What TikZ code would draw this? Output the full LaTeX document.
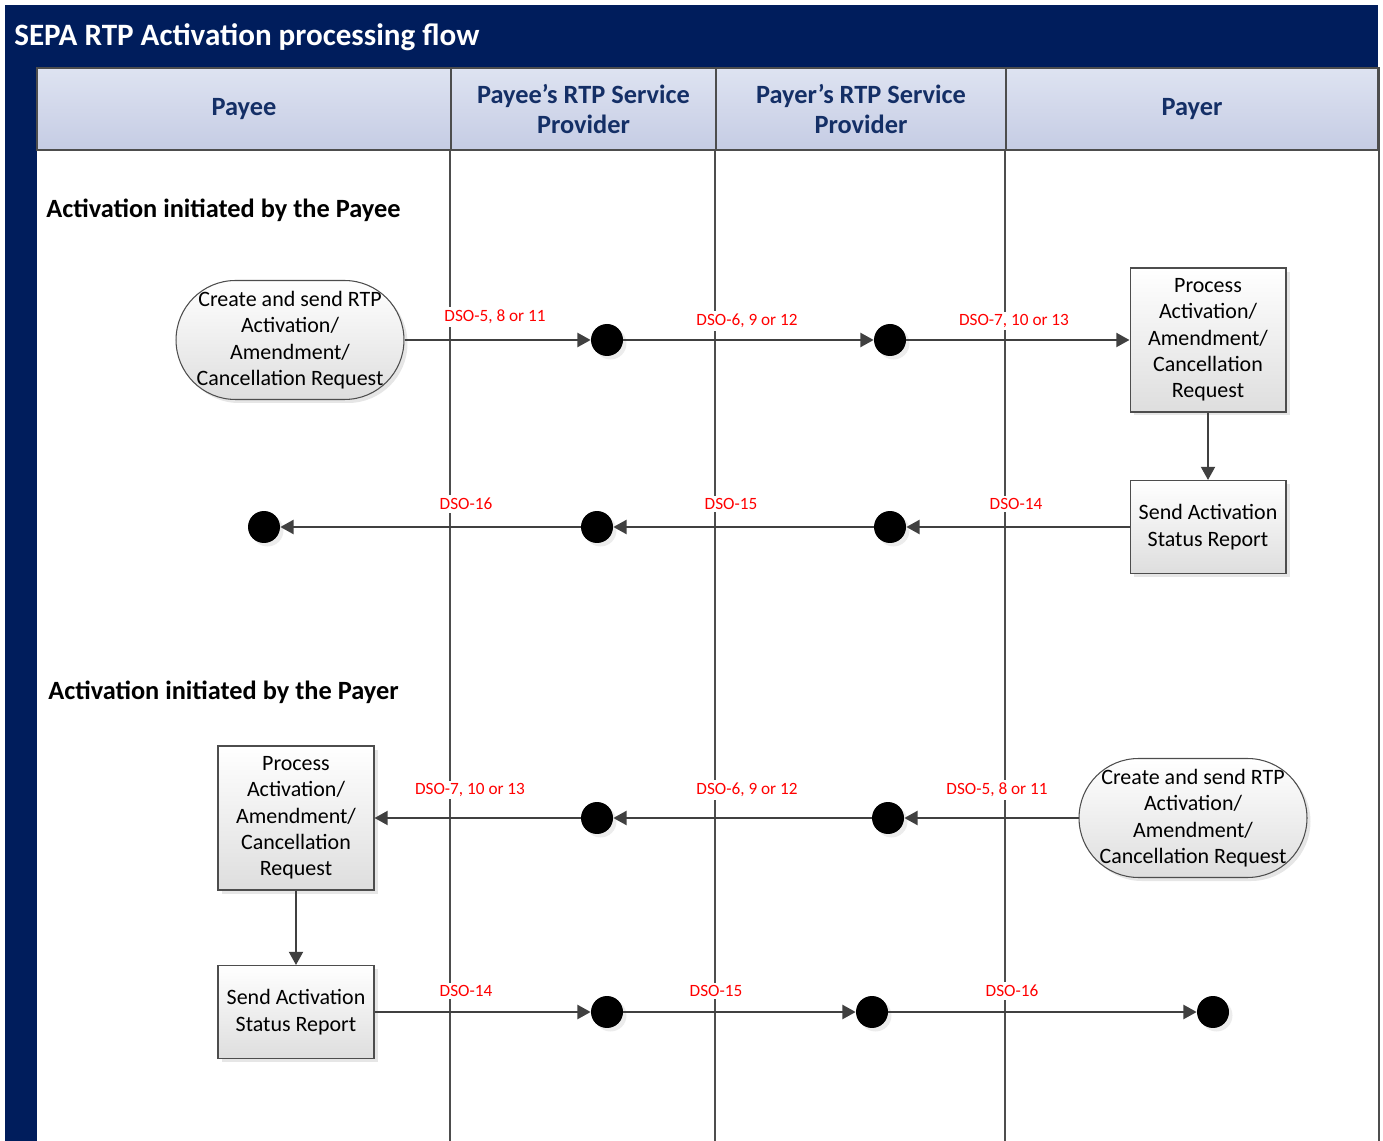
\documentclass[tikz,border=0pt]{standalone}
\usepackage{fontspec}
\setmainfont{Carlito}
\usetikzlibrary{arrows.meta,positioning,shadows}
\definecolor{rtpnavy}{HTML}{001D5C}
\definecolor{rtphead}{HTML}{142F66}
\definecolor{rtpink}{HTML}{404040}
\definecolor{rtplane}{HTML}{4D4D4D}
\definecolor{rtptop}{HTML}{DEE3F1}
\definecolor{rtpbottom}{HTML}{C5CCE4}
\definecolor{rtpred}{HTML}{FF0000}
\tikzset{
  lanehead/.style={draw=rtplane,line width=0.9pt,top color=rtptop,bottom color=rtpbottom,
    minimum height=1.64cm,inner sep=0pt,align=center,text=rtphead,
    font=\fontsize{15}{17.5}\selectfont\bfseries},
  laneline/.style={draw=rtplane,line width=0.9pt},
  sectitle/.style={anchor=west,inner sep=0pt,font=\fontsize{15}{18}\selectfont\bfseries},
  stepbox/.style={draw=rtplane,line width=0.6pt,top color=white,bottom color=black!13,
    minimum width=3.12cm,inner sep=0pt,align=center,font=\fontsize{12.5}{15}\selectfont,
    drop shadow={opacity=0.2,shadow xshift=2pt,shadow yshift=-2pt}},
  startnode/.style={stepbox,rounded corners=1.19cm,minimum width=4.56cm,minimum height=2.38cm},
  flowdot/.style={circle,fill=black,minimum size=0.64cm,inner sep=0pt,
    drop shadow={opacity=0.15,shadow xshift=2pt,shadow yshift=-2pt}},
  flow/.style={draw=rtpink,line width=1.1pt,-{Triangle[length=7.5pt,width=8pt]}},
  dsolabel/.style={fill=white,inner sep=1.5pt,text=rtpred,font=\fontsize{9.8}{11}\selectfont},
}

\begin{document}
\begin{tikzpicture}[x=0.02cm,y=-0.02cm]
  \path[use as bounding box] (0,0) rectangle (1383,1141);
  % frame and title
  \fill[rtpnavy] (5,5) rectangle (1378,68);
  \fill[rtpnavy] (5,68) rectangle (37,1141);
  \node[anchor=west,inner sep=0pt,text=white,font=\fontsize{17.7}{20}\selectfont\bfseries]
    (title) at (14,37) {SEPA RTP Activation processing flow};
  % lanes
  \node[lanehead,minimum width=8.28cm] (hpayee) at (244,109) {Payee};
  \node[lanehead,minimum width=5.3cm] (hpayeesp) at (583.5,109) {Payee’s RTP Service\\Provider};
  \node[lanehead,minimum width=5.8cm] (hpayersp) at (861,109) {Payer’s RTP Service\\Provider};
  \node[lanehead,minimum width=7.44cm] (hpayer) at (1192,109) {Payer};
  \draw[laneline] (hpayeesp.south west) -- (hpayeesp.south west |- 0,1141);
  \draw[laneline] (hpayersp.south west) -- (hpayersp.south west |- 0,1141);
  \draw[laneline] (hpayer.south west) -- (hpayer.south west |- 0,1141);
  \draw[laneline] (hpayer.north east) -- (hpayer.north east |- 0,1141);

  % activation initiated by the payee
  \node[sectitle] (secpayee) at (46,210) {Activation initiated by the Payee};
  \node[startnode] (req1) at (290,340) {Create and send RTP\\Activation/\\Amendment/\\Cancellation Request};
  \node[flowdot] (d11) at (607,340) {};
  \node[flowdot] (d12) at (890,340) {};
  \node[stepbox,minimum height=2.88cm] (proc1) at (1208,340) {Process\\Activation/\\Amendment/\\Cancellation\\Request};
  \node[stepbox,minimum height=1.86cm] (send1) at (1208,527) {Send Activation\\Status Report};
  \node[flowdot] (d13) at (890,527) {};
  \node[flowdot] (d14) at (597,527) {};
  \node[flowdot] (d15) at (264,527) {};
  \draw[flow] (req1) -- (d11);
  \draw[flow] (d11) -- (d12);
  \draw[flow] (d12) -- (proc1);
  \draw[flow] (proc1) -- (send1);
  \draw[flow] (send1) -- (d13);
  \draw[flow] (d13) -- (d14);
  \draw[flow] (d14) -- (d15);
  \node[dsolabel] (l11) at (495,317) {DSO-5, 8 or 11};
  \node[dsolabel] (l12) at (747,321) {DSO-6, 9 or 12};
  \node[dsolabel] (l13) at (1014,321) {DSO-7, 10 or 13};
  \node[dsolabel] (l14) at (1016,504) {DSO-14};
  \node[dsolabel] (l15) at (731,504) {DSO-15};
  \node[dsolabel] (l16) at (466,504) {DSO-16};

  % activation initiated by the payer
  \node[sectitle] (secpayer) at (48,692) {Activation initiated by the Payer};
  \node[startnode] (req2) at (1193,818) {Create and send RTP\\Activation/\\Amendment/\\Cancellation Request};
  \node[flowdot] (d21) at (888,818) {};
  \node[flowdot] (d22) at (597,818) {};
  \node[stepbox,minimum height=2.88cm] (proc2) at (296,818) {Process\\Activation/\\Amendment/\\Cancellation\\Request};
  \node[stepbox,minimum height=1.86cm] (send2) at (296,1012) {Send Activation\\Status Report};
  \node[flowdot] (d23) at (607,1012) {};
  \node[flowdot] (d24) at (872,1012) {};
  \node[flowdot] (d25) at (1213,1012) {};
  \draw[flow] (req2) -- (d21);
  \draw[flow] (d21) -- (d22);
  \draw[flow] (d22) -- (proc2);
  \draw[flow] (proc2) -- (send2);
  \draw[flow] (send2) -- (d23);
  \draw[flow] (d23) -- (d24);
  \draw[flow] (d24) -- (d25);
  \node[dsolabel] (l21) at (997,790) {DSO-5, 8 or 11};
  \node[dsolabel] (l22) at (747,790) {DSO-6, 9 or 12};
  \node[dsolabel] (l23) at (470,790) {DSO-7, 10 or 13};
  \node[dsolabel] (l24) at (466,991) {DSO-14};
  \node[dsolabel] (l25) at (716,991) {DSO-15};
  \node[dsolabel] (l26) at (1012,991) {DSO-16};
\end{tikzpicture}
\end{document}
